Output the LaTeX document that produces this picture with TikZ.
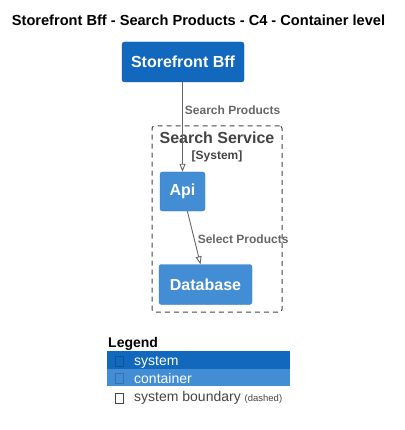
\documentclass[tikz,border=0pt]{standalone}
\usepackage{fontspec}
\setmainfont{Liberation Sans}
\usetikzlibrary{arrows.meta,positioning}
\definecolor{sysblue}{HTML}{1168BD}
\definecolor{contblue}{HTML}{438DD5}
\definecolor{relgray}{HTML}{666666}
\definecolor{bndgray}{HTML}{444444}
\tikzset{
  sysbox/.style={fill=sysblue, draw=sysblue!85!black, rounded corners=2.5pt, text=white,
    font=\fontsize{16}{19}\selectfont\bfseries, inner sep=0pt},
  contbox/.style={sysbox, fill=contblue, draw=contblue!85!black},
  rel/.style={draw=relgray, line width=0.9pt, -{Triangle[open,length=8pt,width=6pt]}},
  rellabel/.style={text=relgray, font=\fontsize{12}{14}\selectfont\bfseries, inner sep=0pt},
  lgrow/.style={minimum width=183pt, minimum height=17.5pt, anchor=north west, inner sep=0pt},
  lgtext/.style={anchor=base west, inner sep=0pt, font=\fontsize{14}{16}\selectfont},
  glyph/.style={draw, line width=0.8pt, minimum width=8pt, minimum height=10pt, inner sep=0pt},
}
\begin{document}
\begin{tikzpicture}[x=1pt,y=-1pt]
	\useasboundingbox (0,0) rectangle (404,430);
	
	\node[font=\fontsize{14.6}{17}\selectfont\bfseries] (title) at (198.5,20) {Storefront Bff - Search Products - C4 - Container level};
	
	\node[sysbox, minimum width=122pt, minimum height=40pt] (bff) at (183,62) {Storefront Bff};
	
	% system boundary
	\node[draw=bndgray, line width=1pt, dash pattern=on 5pt off 4pt, rounded corners=2.5pt,
	      minimum width=130pt, minimum height=186pt, inner sep=0pt] (boundary) at (217,219) {};
	\node[text=bndgray, font=\fontsize{16}{19}\selectfont\bfseries] (bndname) at (217,138) {Search Service};
	\node[text=bndgray, font=\fontsize{12}{14}\selectfont\bfseries] (bndtype) at (217,156) {[System]};
	
	\node[contbox, minimum width=45pt, minimum height=39pt] (api) at (182.5,191.5) {Api};
	\node[contbox, minimum width=93pt, minimum height=40pt] (db) at (205.5,284.5) {Database};
	
	\draw[rel] (bff.south -| api.north) -- (api.north) node[rellabel, pos=0.31, right=2pt] {Search Products};
	\draw[rel] (api) -- (db) node[rellabel, pos=0.53, right=3pt] {Select Products};
	
	% legend
	\node[lgtext, font=\fontsize{14}{16}\selectfont\bfseries] (legend) at (108,347) {Legend};
	\node[lgrow, fill=sysblue] (lgsys) at (107,351) {};
	\node[lgrow, fill=contblue] (lgcont) at (107,368.5) {};
	\node[glyph, draw=sysblue!80!black] (lgsysicon) at (119,361) {};
	\node[glyph, draw=contblue!80!black] (lgconticon) at (119,378.5) {};
	\node[glyph, draw=bndgray] (lgbndicon) at (119,398) {};
	\node[lgtext, text=white] (lgsystext) at (134,365.5) {system};
	\node[lgtext, text=white] (lgconttext) at (134,383) {container};
	\node[lgtext, text=bndgray] (lgbndtext) at (134,401.5) {system boundary {\fontsize{9.5}{11}\selectfont (dashed)}};
\end{tikzpicture}
\end{document}
